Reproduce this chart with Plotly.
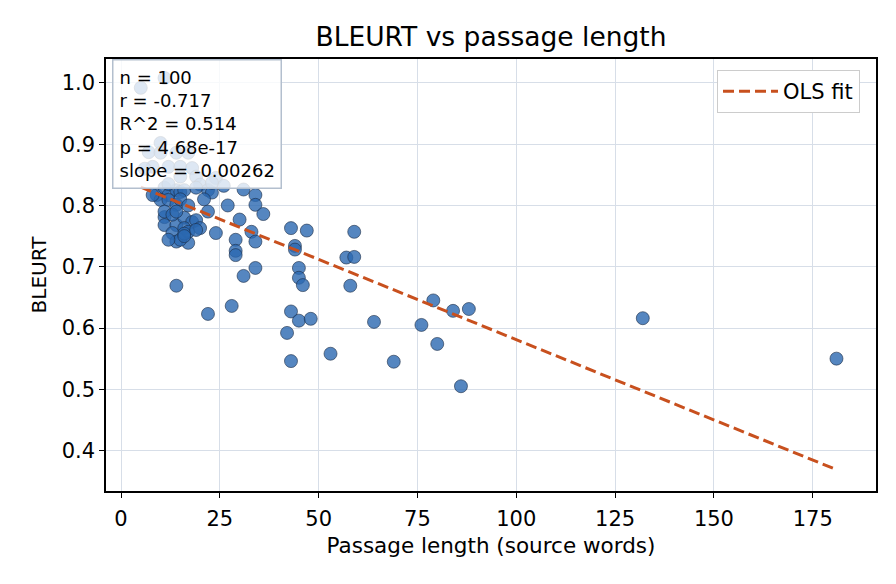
import numpy as np
import plotly.graph_objects as go

# Passage length (source words) and BLEURT score
passage_len = [
    5, 11, 10, 7, 10, 14, 17, 8, 12, 15, 18, 15, 19, 24, 6,
    9, 11, 12, 14, 15, 16, 20, 22, 10, 12, 14, 11, 11, 14, 16,
    18, 13, 16, 14, 17, 15, 22, 24, 23, 31, 34, 34, 36, 27, 30,
    33, 34, 29, 29, 29, 34, 31, 14, 22, 28, 43, 47, 59, 44, 44,
    45, 45, 46, 57, 59, 58, 43, 45, 48, 42, 43, 53, 64, 69, 79,
    76, 80, 84, 88, 86, 132, 181,
    8, 11, 13, 19, 17, 16, 19, 15, 12, 26, 23, 17, 20, 14, 12, 19, 21, 16,
]
bleurt = [
    0.992, 1.008, 0.902, 0.887, 0.886, 0.886, 0.886, 0.863, 0.863, 0.863, 0.861, 0.847, 0.847, 0.845, 0.860,
    0.817, 0.829, 0.817, 0.825, 0.822, 0.825, 0.834, 0.825, 0.809, 0.809, 0.801, 0.781, 0.768, 0.768, 0.780,
    0.773, 0.755, 0.763, 0.741, 0.739, 0.744, 0.790, 0.755, 0.821, 0.826, 0.817, 0.801, 0.786, 0.800, 0.777,
    0.757, 0.741, 0.744, 0.726, 0.719, 0.698, 0.685, 0.669, 0.623, 0.636, 0.763, 0.759, 0.757, 0.734, 0.728,
    0.698, 0.682, 0.670, 0.715, 0.716, 0.669, 0.627, 0.612, 0.615, 0.592, 0.546, 0.558, 0.610, 0.545, 0.645,
    0.605, 0.574, 0.628, 0.631, 0.505, 0.616, 0.550,
    0.817, 0.790, 0.785, 0.776, 0.757, 0.754, 0.829, 0.810, 0.835, 0.832, 0.837, 0.800, 0.763, 0.790, 0.744, 0.760, 0.810, 0.750,
]

# OLS fit as reported in the stats box
fit_slope = -0.00262
fit_intercept = 0.843
stats_lines = ['n = 100', 'r = -0.717', 'R^2 = 0.514', 'p = 4.68e-17', 'slope = -0.00262']

x_fit = np.array([min(passage_len), max(passage_len)])
y_fit = fit_intercept + fit_slope * x_fit

fig = go.Figure()

fig.add_trace(
    go.Scatter(x=passage_len, y=bleurt,
               mode='markers',
               marker=dict(size=13, color='rgba(42,104,176,0.8)',
                           line=dict(width=0.6, color='#1b2b44')),
               showlegend=False,
               )
    )

fig.add_trace(
    go.Scatter(x=x_fit, y=y_fit,
               mode='lines',
               line=dict(color='#c8501e', width=3, dash='11px,5px'),
               name='OLS fit',
               )
    )

# stats box (top left, semi-transparent)
fig.add_annotation(
    x=0.008, y=1.0, xref='paper', yref='paper',
    xanchor='left', yanchor='top',
    text='<br>'.join(stats_lines),
    align='left', showarrow=False,
    font=dict(size=18, color='black', family='DejaVu Sans'),
    bgcolor='rgba(255,255,255,0.8)',
    bordercolor='#b3bfce', borderwidth=1.5, borderpad=6,
    )

fig.update_xaxes(title=dict(text='Passage length (source words)', standoff=8,
                            font=dict(size=21.5)),
                 range=[-3.8, 191],
                 tickvals=[0, 25, 50, 75, 100, 125, 150, 175],
                 ticks='outside', ticklen=5, tickcolor='black',
                 ticklabelstandoff=3,
                 showline=True, linewidth=1.5, linecolor='black', mirror=True,
                 showgrid=True, gridcolor='#d7dee8', gridwidth=1.2,
                 zeroline=False)

fig.update_yaxes(title=dict(text='BLEURT', standoff=10, font=dict(size=20)),
                 range=[0.334, 1.039],
                 tickvals=[0.4, 0.5, 0.6, 0.7, 0.8, 0.9, 1.0],
                 ticktext=['0.4', '0.5', '0.6', '0.7', '0.8', '0.9', '1.0'],
                 ticks='outside', ticklen=5, tickcolor='black',
                 showline=True, linewidth=1.5, linecolor='black', mirror=True,
                 showgrid=True, gridcolor='#d7dee8', gridwidth=1.2,
                 zeroline=False)

# page body adds ~8px offset, so figure is 8px smaller and margins shifted
fig.update_layout(width=888, height=576,
                  margin={'l': 98, 'r': 20, 't': 51, 'b': 93},
                  title=dict(text='BLEURT vs passage length', x=0.5, xref='paper',
                             y=1 - 29 / 576, yref='container', yanchor='middle',
                             font=dict(size=26.5)),
                  font=dict(size=21, family='DejaVu Sans', color='black'),
                  legend=dict(x=0.979, y=0.975, xanchor='right', yanchor='top',
                              bgcolor='white', bordercolor='#cccccc', borderwidth=1.2,
                              itemwidth=55,
                              font=dict(size=21)),
                  paper_bgcolor='white',
                  plot_bgcolor='white',
                  )

fig.write_html('out.html')
